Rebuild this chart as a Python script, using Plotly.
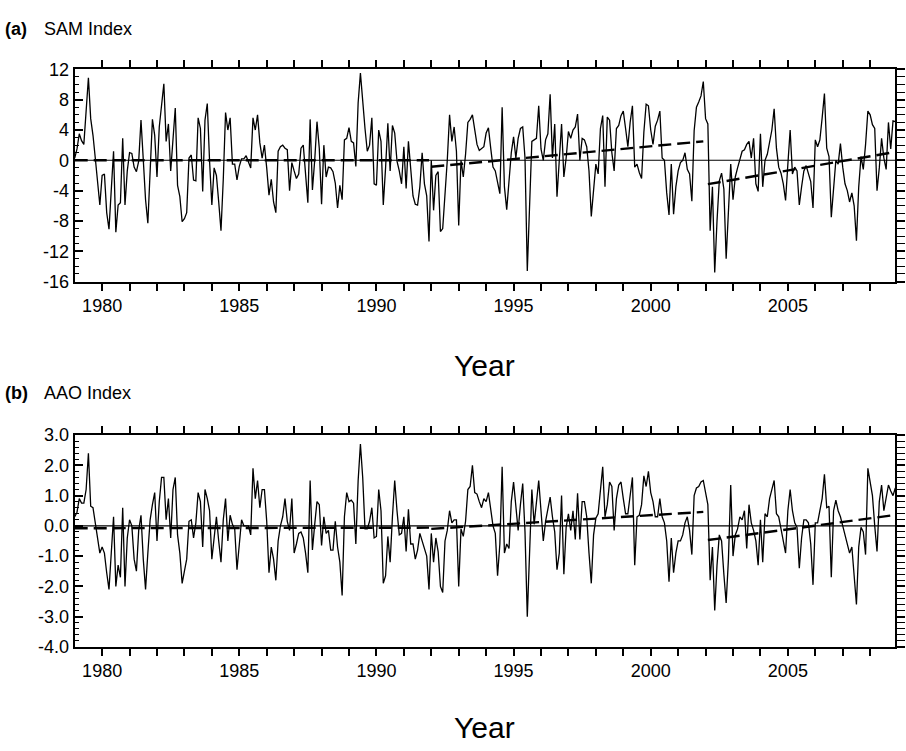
import plotly.graph_objects as go

# ---------------- data (monthly, Jan 1979 - Dec 2008) ----------------
start_year = 1979
n_months = 360

sam_values = [
    0.3, 1.5, 3.5, 2.6, 2.1, 6.3, 10.9, 5.5, 3.3, 0.3,
    -3.1, -5.9, -2.0, -1.8, -6.9, -9.1, -3.9, 1.2, -9.5, -5.9,
    -5.6, 2.9, -5.9, -1.4, 1.0, 0.9, -0.9, -1.5, -0.1, 5.3,
    0.1, -5.2, -8.3, -1.4, 5.4, 3.3, -2.2, 4.4, 7.2, 10.1,
    2.5, 4.8, -1.4, 2.5, 6.9, -3.3, -4.8, -8.1, -7.7, -6.9,
    0.3, 0.7, -2.6, -2.7, 5.6, 4.2, -4.1, 5.3, 7.5, -0.1,
    -5.9, -1.0, -2.0, -5.5, -9.3, -2.5, 6.3, 4.0, 5.6, -0.5,
    -0.5, -2.6, -0.8, 0.2, 0.2, 0.6, -0.2, -1.0, 5.6, 4.0,
    6.0, 2.3, 0.3, 2.0, -1.0, -4.6, -2.5, -5.5, -6.9, 1.2,
    1.8, 2.0, 1.6, 1.4, -4.0, -0.3, -1.4, -2.4, -1.8, 1.6,
    2.0, -1.8, -5.6, 5.4, -3.9, 0.0, 5.1, 1.6, -5.8, 2.0,
    -2.2, -0.9, -1.0, -1.5, -3.0, -6.3, -3.3, -5.2, 2.7, 2.9,
    4.3, 2.5, 2.3, -0.8, 7.6, 11.5, 7.2, 4.2, 1.2, 2.0,
    5.6, -3.1, -3.3, 4.0, 2.5, -5.9, -1.0, 4.9, -1.4, 4.6,
    3.6, -0.1, -1.4, -3.1, 1.8, -3.7, 2.5, -1.5, -4.7, -5.8,
    -5.9, -3.5, 1.0, -3.1, -4.7, -10.7, 0.0, -6.6, -2.0, -1.5,
    -9.4, -9.0, -4.8, 0.0, 6.0, 2.5, 4.4, 1.2, -8.6, 0.0,
    -2.2, 0.8, 5.0, 5.4, 6.0, 4.2, 2.1, 1.3, 1.6, 1.8,
    3.6, 4.3, 1.6, -0.9, -1.4, -3.1, -4.4, 7.0, -3.5, -6.5,
    -2.2, 1.0, 3.1, 0.3, 2.9, 4.2, 4.4, 0.3, -14.6, -5.6,
    2.5, 2.7, 2.9, 7.2, 1.5, 0.0, 2.7, 3.5, 8.7, 0.3,
    4.8, -4.8, 0.3, 4.8, -2.2, 0.3, 3.8, 2.9, 4.0, 4.4,
    6.1, 0.0, 2.9, 2.7, 1.8, -1.4, -7.4, -3.7, -0.5, -1.8,
    4.2, 5.9, -3.5, 5.7, 5.3, 1.0, -1.4, 4.2, 4.6, 5.9,
    6.5, 4.2, 1.8, 5.0, 7.2, -0.9, -0.5, -1.6, -2.4, 3.7,
    7.4, 7.2, 4.0, 2.1, 4.5, 5.3, 6.5, 0.3, 0.0, -4.3,
    -7.2, -0.5, -7.1, -3.5, -1.4, -0.3, 0.0, 1.0, -1.2, -1.8,
    -5.4, 3.9, 7.0, 7.7, 8.5, 10.4, 5.5, 4.8, -9.3, -3.5,
    -14.8, -8.0, -2.7, -1.7, -3.8, -13.0, -6.0, -0.5, -5.2, -2.2,
    -1.0, 0.0, 1.2, 1.4, 2.1, 2.5, 0.3, 2.9, -3.1, -4.1,
    3.5, -3.5, 0.0, 0.8, 2.5, 4.0, 6.8, 1.6, -0.9, -1.7,
    -3.1, -5.3, -0.5, 4.0, -1.8, -0.9, -1.4, -5.9, -3.5, -1.4,
    -0.7, -1.7, -2.8, -6.3, 2.7, 1.8, 2.7, 5.6, 8.8, 1.6,
    0.5, -7.5, -3.1, 0.0, -0.5, 2.2, -0.9, -3.1, -4.0, -5.5,
    -4.3, -6.0, -10.6, -3.5, 0.5, -1.2, 2.1, 6.5, 6.0, 4.7,
    4.2, -4.0, -1.0, 2.9, 0.3, -1.2, 5.0, 1.5, 5.2, 5.1,
]

aao_values = [
    0.3, 0.45, 0.9, 0.75, 0.75, 1.2, 2.4, 0.65, 0.6, 0.15,
    -0.4, -0.9, -0.7, -0.9, -1.55, -2.1, -0.9, 0.3, -2.0, -1.3,
    -1.7, 0.6, -2.0, -0.4, 0.2, 0.0, -1.1, -1.5, -0.15, 0.35,
    -1.1, -2.1, -0.9, 0.2, 0.7, 1.1, -0.5, 0.8, 1.6, 1.6,
    0.2, 0.9, -0.4, 1.2, 1.6, -0.3, -0.9, -1.9, -1.5, -1.1,
    0.15, 0.2, -0.4, 0.1, 1.1, 0.8, -0.7, 1.2, 0.9, 0.5,
    -1.1, -0.4, 0.3, -0.5, -1.2, 0.2, 0.9, -0.5, 0.35, 0.05,
    -0.1, -1.45, -0.6, 0.2, 0.0, 0.0, 0.0, -0.3, 1.9, 0.9,
    1.5, 0.6, 1.2, 1.2, 0.15, -1.55, -0.7, -1.1, -1.8, -0.5,
    0.0, 0.3, 0.9, 0.15, -0.15, 0.9, -0.9, -0.6, -0.25, -0.2,
    -0.4, -0.9, -1.55, 1.5, -0.8, 0.05, 0.8, 0.7, -0.65, 0.3,
    -0.25, -0.15, -0.8, -0.8, 0.15, -0.7, -1.2, -2.3, 0.3, 1.1,
    0.8, 0.85, 0.75, -0.6, 1.5, 2.7, 1.6, -0.1, -0.1, 0.15,
    0.6, -0.4, -0.35, 1.2, 0.5, -1.9, -1.65, -0.35, -1.2, 0.3,
    1.5, 0.5, -0.3, -0.25, 0.3, -0.85, 0.55, -0.6, -0.6, -1.1,
    -0.8, -0.25, -0.5, -0.7, -1.0, -2.1, -0.25, -1.2, -0.4, -0.85,
    -2.0, -2.2, -0.5, -0.15, 0.5, 0.1, 0.2, 0.2, -2.0, -0.1,
    -0.35, 0.15, 1.2, 1.3, 2.0, 1.1, 1.05, 0.8, 0.6, 0.9,
    0.8, 1.1, 0.5, 0.0, -0.25, -1.65, -0.6, 1.95, -0.9, -0.6,
    -0.75, 0.8, 1.45, 0.7, -0.15, 0.7, 1.4, -0.2, -3.0, -0.9,
    1.2, 0.05, 0.7, 1.5, 0.5, -0.5, 0.15, 0.55, 0.95, 0.3,
    -0.2, -1.45, -0.9, 1.0, -1.6, -0.05, 0.4, -0.15, 0.5, -0.45,
    1.08, -0.45, 0.8, 0.8, 0.3, -0.9, -1.9, -0.3, 0.25, 0.4,
    1.25, 1.95, 0.3, 0.7, 1.45, 1.3, -0.15, 0.9, 1.35, 1.45,
    0.9, 0.4, 0.4, 0.95, 1.6, -1.3, 0.3, 0.35, 0.7, 1.65,
    1.3, 1.8, 1.1, 0.8, 0.3, 0.3, 0.9, 0.3, 0.1, -0.5,
    -1.85, -0.4, -1.55, -0.9, -0.5, -0.5, -0.3, 0.1, 0.3, -0.15,
    -0.95, 1.0, 1.25, 1.3, 1.45, 1.5, 1.1, 0.7, -1.8, -0.7,
    -2.8, -1.3, -0.3, -0.5, -1.6, -2.55, -1.1, 1.35, -1.0, -0.3,
    -0.1, 0.3, 0.2, 0.5, -0.75, 0.7, 0.1, -0.15, -0.5, -1.3,
    0.2, -1.2, 0.4, 0.3, 0.9, 1.2, 1.5, 0.4, 0.3, -0.1,
    -0.5, -0.9, 0.5, 1.2, 0.5, 0.1, -0.05, -1.4, -0.4, 0.2,
    0.2, 0.1, -0.6, -1.95, 0.1, 0.1, 0.5, 0.9, 1.7, 0.6,
    0.65, -1.7, 0.5, 0.85, 0.5, 0.3, 0.0, -0.3, -0.65, -0.9,
    -0.7, -1.7, -2.6, -0.7, -0.05, -0.2, -0.95, 1.9, 1.45, 1.0,
    0.0, -0.85, 0.8, 1.35, 0.5, 1.0, 1.35, 1.15, 1.0, 1.25,
]

# trend segments (start year, end year) and values
trend_periods = [(1979.0, 1991.917), (1992.0, 2001.917), (2002.083, 2008.917)]
sam_trend_values = [(0.0, 0.0), (-0.85, 2.5), (-3.15, 1.1)]
aao_trend_values = [(-0.08, -0.06), (-0.1, 0.46), (-0.47, 0.36)]

year_ticks = list(range(1980, 2009))
sam_yticks = [12, 8, 4, 0, -4, -8, -12, -16]
sam_ylabels = ["12", "8", "4", "0", "-4", "-8", "-12", "-16"]
aao_yticks = [3, 2, 1, 0, -1, -2, -3, -4]
aao_ylabels = ["3.0", "2.0", "1.0", "0.0", "-1.0", "-2.0", "-3.0", "-4.0"]

months = [start_year + i / 12.0 for i in range(n_months)]

# ---------------- layout geometry ----------------
W, H = 906, 751
x0_px, x1_px = 74.7, 895.3
a_top, a_bot = 61.0, 279.0
b_top, b_bot = 436.7, 654.3
xdom = [x0_px / W, x1_px / W]
ya_dom = [1 - a_bot / H, 1 - a_top / H]
yb_dom = [1 - b_bot / H, 1 - b_top / H]

FONT = "Liberation Sans, Arial, Helvetica, sans-serif"
BLACK = "#000000"

fig = go.Figure()


def add_panel(values, trends, xa, ya, yr):
    fig.add_trace(go.Scatter(x=months, y=values, mode="lines",
                             line=dict(color=BLACK, width=1.3),
                             xaxis=xa, yaxis=ya, showlegend=False,
                             hoverinfo="skip"))
    fig.add_trace(go.Scatter(x=[months[0], months[-1]], y=[0, 0], mode="lines",
                             line=dict(color=BLACK, width=1.1),
                             xaxis=xa, yaxis=yr, showlegend=False,
                             hoverinfo="skip"))
    for (t0, t1), (v0, v1) in zip(trend_periods, trends):
        fig.add_trace(go.Scatter(x=[t0, t1], y=[v0, v1], mode="lines",
                                 line=dict(color=BLACK, width=2.4, dash="13px,6px"),
                                 xaxis=xa, yaxis=ya, showlegend=False,
                                 hoverinfo="skip"))


add_panel(sam_values, sam_trend_values, "x", "y", "y3")
add_panel(aao_values, aao_trend_values, "x2", "y2", "y4")


def xaxis_cfg(anchor):
    return dict(domain=xdom, anchor=anchor, range=[months[0], months[-1]],
                tickmode="array", tickvals=year_ticks,
                ticktext=[str(y) if y % 5 == 0 else "" for y in year_ticks],
                ticks="outside", ticklen=7, tickwidth=1.6, tickcolor=BLACK,
                showline=True, linewidth=2, linecolor=BLACK, mirror="ticks",
                showgrid=False, zeroline=False,
                tickfont=dict(family=FONT, size=18, color=BLACK))


def yaxis_left(domain, anchor, rng, ticks, labels, minor_dt):
    return dict(domain=domain, anchor=anchor, range=rng,
                tickmode="array", tickvals=ticks, ticktext=labels,
                ticks="inside", ticklen=8, tickwidth=1.6, tickcolor=BLACK,
                minor=dict(tickmode="linear", tick0=rng[0], dtick=minor_dt,
                           ticks="inside", ticklen=4, tickwidth=1.4,
                           tickcolor=BLACK, showgrid=False),
                showline=True, linewidth=2, linecolor=BLACK, mirror=False,
                showgrid=False, zeroline=False,
                tickfont=dict(family=FONT, size=18, color=BLACK))


def yaxis_right(over, anchor, rng, ticks, minor_dt):
    return dict(overlaying=over, anchor=anchor, side="right", range=rng,
                tickmode="array", tickvals=ticks, showticklabels=False,
                ticks="outside", ticklen=8, tickwidth=1.6, tickcolor=BLACK,
                minor=dict(tickmode="linear", tick0=rng[0], dtick=minor_dt,
                           ticks="outside", ticklen=8, tickwidth=1.4,
                           tickcolor=BLACK, showgrid=False),
                showline=True, linewidth=2, linecolor=BLACK,
                showgrid=False, zeroline=False)


annotations = []
for label, name, ytop in [("(a)", "SAM Index", 20), ("(b)", "AAO Index", 393)]:
    annotations.append(dict(x=3 / W, y=1 - ytop / H, xref="paper", yref="paper",
                            xanchor="left", yanchor="middle", showarrow=False,
                            text="<b>" + label + "</b>",
                            font=dict(family=FONT, size=18, color=BLACK)))
    annotations.append(dict(x=42 / W, y=1 - ytop / H, xref="paper", yref="paper",
                            xanchor="left", yanchor="middle", showarrow=False,
                            text=name,
                            font=dict(family=FONT, size=18, color=BLACK)))
for ycen in [365, 737]:
    annotations.append(dict(x=(x0_px + x1_px) / 2 / W, y=1 - ycen / H,
                            xref="paper", yref="paper", xanchor="center",
                            yanchor="middle", showarrow=False, text="Year",
                            font=dict(family=FONT, size=30, color=BLACK)))

fig.update_layout(
    width=W, height=H, autosize=False,
    margin=dict(l=0, r=0, t=0, b=0),
    paper_bgcolor="white", plot_bgcolor="white",
    xaxis=xaxis_cfg("y"), xaxis2=xaxis_cfg("y2"),
    yaxis=yaxis_left(ya_dom, "x", [-16, 12], sam_yticks, sam_ylabels, 1),
    yaxis2=yaxis_left(yb_dom, "x2", [-4, 3], aao_yticks, aao_ylabels, 0.2),
    yaxis3=yaxis_right("y", "x", [-16, 12], sam_yticks, 1),
    yaxis4=yaxis_right("y2", "x2", [-4, 3], aao_yticks, 0.2),
    annotations=annotations,
    showlegend=False,
)

fig.write_html("out.html")
